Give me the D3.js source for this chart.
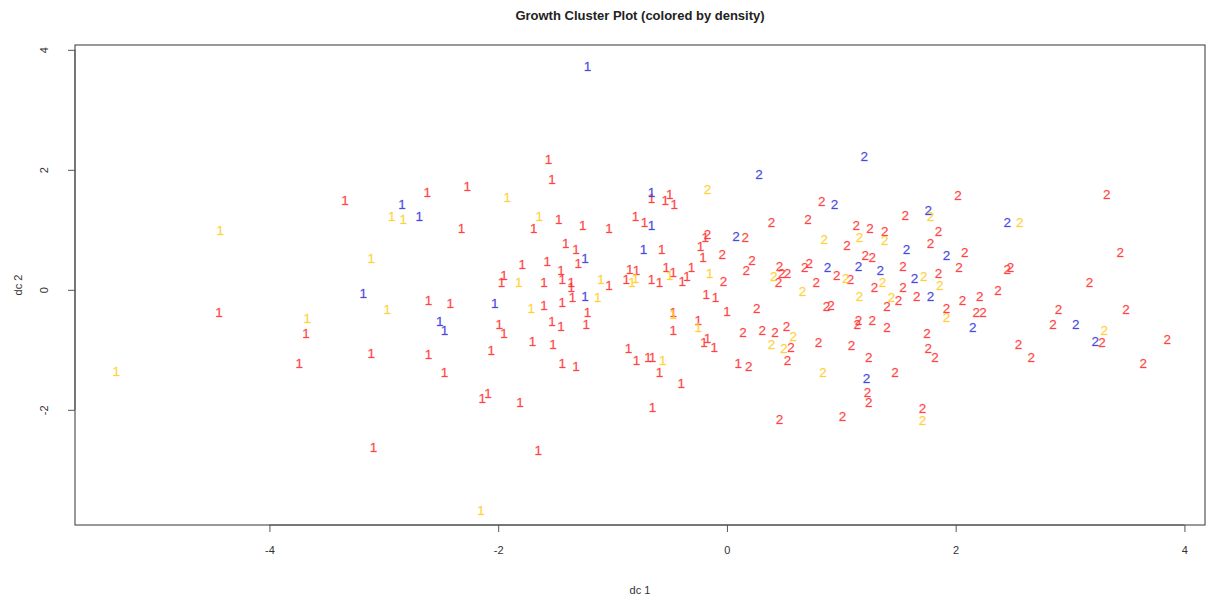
<!DOCTYPE html>
<html>
<head>
<meta charset="utf-8">
<script src="https://cdn.jsdelivr.net/npm/d3@7"></script>
<style>
  html, body { margin: 0; padding: 0; background: #fff; }
  svg { display: block; font-family: "Liberation Sans", Arial, sans-serif; }
</style>
</head>
<body>
<svg id="chart" width="1206" height="598"></svg>
<script>
// Discriminant coordinates [dc1, dc2] per cluster, split by density class
const cluster1Red = [
  [-4.44,-0.38],[-3.34,1.50],[-2.62,1.62],[-2.27,1.73],[-2.32,1.03],[-2.61,-0.17],[-2.42,-0.22],
  [-3.68,-0.72],[-3.11,-1.05],[-2.61,-1.07],[-3.74,-1.22],[-2.47,-1.38],[-2.14,-1.80],[-2.09,-1.73],
  [-3.09,-2.63],[-1.56,2.17],[-1.53,1.85],[-0.66,1.53],[-0.50,1.60],[-0.54,1.50],[-0.46,1.43],
  [-1.69,1.02],[-1.47,1.17],[-1.26,1.07],[-1.03,1.03],[-0.80,1.22],[-0.72,1.12],[-1.41,0.78],
  [-1.32,0.67],[-0.57,0.67],[-1.30,0.45],[-1.79,0.42],[-1.57,0.48],[-1.45,0.32],[-0.85,0.35],
  [-0.79,0.33],[-0.53,0.38],[-0.47,0.30],[-1.95,0.25],[-1.97,0.12],[-1.60,0.13],[-1.44,0.17],
  [-1.36,0.12],[-1.36,0.05],[-1.03,0.08],[-0.88,0.17],[-0.66,0.17],[-0.59,0.13],[-1.35,-0.13],
  [-1.60,-0.25],[-1.44,-0.20],[-1.22,-0.38],[-1.23,-0.57],[-1.99,-0.58],[-1.95,-0.73],[-1.53,-0.52],
  [-1.45,-0.60],[-1.70,-0.85],[-1.52,-0.90],[-2.06,-1.00],[-1.44,-1.22],[-1.32,-1.28],[-0.86,-0.97],
  [-0.79,-1.17],[-0.69,-1.13],[-0.65,-1.13],[-0.59,-1.37],[-1.81,-1.87],[-0.65,-1.95],[-1.65,-2.67],
  [-0.47,-0.37],[-0.47,-0.67],[-0.39,0.15],[-0.35,0.22],[-0.31,0.37],[-0.18,-0.07],[-0.10,-0.12],
  [-0.19,0.88],[-0.23,0.73],[-0.21,0.55],[0.00,-0.35],[-0.25,-0.50],[-0.17,-0.80],[-0.20,-0.87],
  [-0.11,-0.95],[0.10,-1.22],[-0.40,-1.55]
];
const cluster1Blue = [
  [-1.22,3.73],[-2.84,1.43],[-2.69,1.22],[-3.18,-0.05],[-2.51,-0.53],[-2.47,-0.67],
  [-0.66,1.63],[-0.66,1.07],[-0.73,0.67],[-1.24,0.52],[-2.03,-0.22],[-1.24,-0.10]
];
const cluster1Yellow = [
  [-4.43,1.00],[-5.34,-1.35],[-2.93,1.23],[-2.83,1.18],[-3.11,0.53],[-3.67,-0.47],[-2.97,-0.33],
  [-2.15,-3.67],[-1.92,1.55],[-1.64,1.22],[-0.50,0.25],[-1.82,0.13],[-1.10,0.18],[-0.83,0.13],
  [-0.80,0.20],[-1.13,-0.12],[-1.71,-0.30],[-0.56,-1.17],[-0.47,-0.40],[-0.15,0.28],[-0.25,-0.63]
];
const cluster2Red = [
  [0.83,1.47],[0.39,1.12],[0.71,1.17],[1.13,1.07],[1.25,1.02],[1.05,0.75],[-0.17,0.92],[0.16,0.87],
  [-0.04,0.60],[0.22,0.50],[0.17,0.32],[1.21,0.58],[1.27,0.55],[0.68,0.38],[0.72,0.45],[0.46,0.40],
  [0.48,0.27],[0.53,0.27],[0.45,0.13],[0.96,0.25],[1.08,0.18],[0.78,0.12],[-0.03,0.15],[0.26,-0.30],
  [0.87,-0.28],[0.91,-0.25],[1.14,-0.57],[1.15,-0.50],[1.27,-0.50],[0.14,-0.70],[0.31,-0.68],
  [0.42,-0.70],[0.52,-0.60],[0.56,-0.95],[0.53,-1.17],[0.80,-0.88],[1.09,-0.93],[1.24,-1.12],
  [0.19,-1.27],[1.23,-1.70],[1.24,-1.87],[0.46,-2.15],[1.01,-2.10],[2.02,1.57],[1.56,1.25],
  [1.85,0.98],[1.38,0.98],[1.78,0.77],[2.08,0.62],[1.54,0.40],[2.03,0.37],[2.45,0.35],[2.48,0.37],
  [1.29,0.05],[1.85,0.28],[1.54,0.05],[1.66,-0.10],[2.37,0.00],[2.21,-0.10],[2.06,-0.17],
  [1.50,-0.17],[1.40,-0.28],[1.92,-0.30],[2.18,-0.37],[2.24,-0.38],[2.90,-0.32],[2.85,-0.57],
  [1.40,-0.63],[1.75,-0.72],[1.76,-0.97],[1.82,-1.13],[2.55,-0.90],[2.66,-1.12],[1.47,-1.38],
  [1.71,-1.97],[3.32,1.60],[3.44,0.63],[3.17,0.12],[3.49,-0.33],[3.28,-0.88],[3.85,-0.83],[3.64,-1.22]
];
const cluster2Blue = [
  [1.20,2.22],[0.28,1.92],[0.94,1.43],[0.08,0.90],[1.15,0.40],[0.88,0.37],[1.76,1.33],[2.45,1.12],
  [1.57,0.67],[1.92,0.58],[1.34,0.32],[1.64,0.20],[1.78,-0.10],[2.15,-0.63],[1.22,-1.47],
  [3.05,-0.57],[3.22,-0.85]
];
const cluster2Yellow = [
  [-0.17,1.67],[0.85,0.85],[1.16,0.87],[0.41,0.22],[1.04,0.20],[0.66,-0.03],[1.16,-0.10],
  [0.39,-0.90],[0.58,-0.78],[0.50,-0.97],[0.84,-1.38],[1.78,1.22],[2.56,1.13],[1.38,0.83],
  [1.36,0.12],[1.72,0.23],[1.86,0.08],[1.44,-0.13],[1.92,-0.45],[1.71,-2.17],[3.30,-0.67]
];

const xTicks = [-4, -2, 0, 2, 4];
const yTicks = [-2, 0, 2, 4];
const xDomain = [-5.70, 4.18];
const yDomain = [-3.92, 4.08];

const titleText = "Growth Cluster Plot (colored by density)";
const xLabel = "dc 1";
const yLabel = "dc 2";

const groups = [
  { label: "1", color: "#ff2a2a", points: cluster1Red },
  { label: "2", color: "#ff2a2a", points: cluster2Red },
  { label: "1", color: "#ffcc1a", points: cluster1Yellow },
  { label: "2", color: "#ffcc1a", points: cluster2Yellow },
  { label: "1", color: "#3030dd", points: cluster1Blue },
  { label: "2", color: "#3030dd", points: cluster2Blue }
];

const svg = d3.select("#chart");
const plot = { left: 75, right: 1205, top: 45, bottom: 525 };

const x = d3.scaleLinear().domain(xDomain).range([plot.left, plot.right]);
const y = d3.scaleLinear().domain(yDomain).range([plot.bottom, plot.top]);

// plain hyphen for negative tick labels
const tickFmt = d => String(d);

// frame around the plotting region
svg.append("rect")
  .attr("x", plot.left).attr("y", plot.top)
  .attr("width", plot.right - plot.left).attr("height", plot.bottom - plot.top)
  .attr("fill", "none").attr("stroke", "#555").attr("stroke-width", 1.2);

// axes
const xAxis = svg.append("g")
  .attr("transform", `translate(0,${plot.bottom})`)
  .call(d3.axisBottom(x).tickValues(xTicks).tickSize(7).tickPadding(14).tickFormat(tickFmt));
const yAxis = svg.append("g")
  .attr("transform", `translate(${plot.left},0)`)
  .call(d3.axisLeft(y).tickValues(yTicks).tickSize(7).tickFormat(tickFmt));

[xAxis, yAxis].forEach(g => {
  g.select(".domain").remove();
  g.selectAll(".tick line").attr("stroke", "#555");
  g.selectAll(".tick text").attr("fill", "#333").style("font-size", "11px")
    .style("font-family", "'Liberation Sans', Arial, sans-serif");
});
yAxis.selectAll(".tick text")
  .attr("x", null).attr("dy", null)
  .attr("text-anchor", "middle")
  .attr("transform", "translate(-27,0) rotate(-90)");

// axis domain lines spanning the tick range
xAxis.append("line")
  .attr("x1", x(xTicks[0])).attr("x2", x(xTicks[xTicks.length - 1]))
  .attr("stroke", "#555");
yAxis.append("line")
  .attr("y1", y(yTicks[0])).attr("y2", y(yTicks[yTicks.length - 1]))
  .attr("stroke", "#555");

// titles
svg.append("text")
  .attr("x", (plot.left + plot.right) / 2).attr("y", 20)
  .attr("text-anchor", "middle")
  .style("font-size", "13px").style("font-weight", "bold").attr("fill", "#222")
  .text(titleText);
svg.append("text")
  .attr("x", (plot.left + plot.right) / 2).attr("y", 594)
  .attr("text-anchor", "middle")
  .style("font-size", "11px").attr("fill", "#333")
  .text(xLabel);
svg.append("text")
  .attr("transform", `translate(22,${(plot.top + plot.bottom) / 2}) rotate(-90)`)
  .attr("text-anchor", "middle")
  .style("font-size", "11px").attr("fill", "#333")
  .text(yLabel);

// cluster labels drawn as text marks
const marks = svg.append("g");
groups.forEach(gp => {
  marks.selectAll(null)
    .data(gp.points)
    .enter().append("text")
    .attr("x", d => x(d[0]))
    .attr("y", d => y(d[1]))
    .attr("text-anchor", "middle")
    .attr("dy", "0.36em")
    .attr("fill", gp.color)
    .attr("fill-opacity", 0.85)
    .attr("stroke", gp.color)
    .attr("stroke-opacity", 0.5)
    .attr("stroke-width", 0.4)
    .style("font-size", "13.5px")
    .text(gp.label);
});
</script>
</body>
</html>
